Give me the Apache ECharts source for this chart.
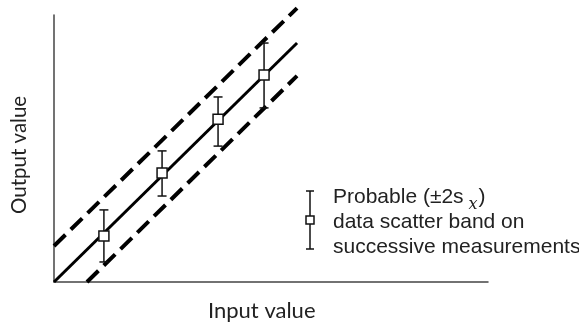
<!DOCTYPE html>
<html>
<head>
<meta charset="utf-8">
<script src="https://cdn.jsdelivr.net/npm/echarts@6/dist/echarts.min.js"></script>
<style>
html,body{margin:0;padding:0;background:#fff;}
#chart{width:579px;height:327px;}
</style>
</head>
<body>
<div id="chart"></div>
<script>
// Measurement points (arbitrary units)
const inputX    = [1.15, 2.49, 3.78, 4.84];
const outputY   = [1.72, 4.08, 6.10, 7.75];
const upperErr  = [2.70, 4.91, 6.93, 8.95];
const lowerErr  = [0.75, 3.22, 5.09, 6.52];
// Fitted line and scatter band limits
const fitLineX   = [0, 5.6];
const fitLineY   = [0, 8.95];
const upperBandX = [0, 5.6];
const upperBandY = [1.35, 10.26];
const lowerBandX = [0.76, 5.6];
const lowerBandY = [0, 7.72];
const xAxisName = 'Input value';
const yAxisName = 'Output value';

const pts = inputX.map((x, i) => [x, outputY[i]]);
const errs = inputX.map((x, i) => [x, lowerErr[i], upperErr[i]]);
const zip = (a, b) => a.map((v, i) => [v, b[i]]);

const chart = echarts.init(document.getElementById('chart'), null, {renderer: 'canvas'});
const axisCommon = {
  type: 'value', min: 0, max: 10,
  axisLine: {show: true, onZero: false, lineStyle: {color: '#444', width: 1.5}},
  axisTick: {show: false}, axisLabel: {show: false}, splitLine: {show: false}
};
const option = {
  animation: false,
  backgroundColor: '#fff',
  grid: {left: 54, top: 15, right: 91, bottom: 45},
  xAxis: Object.assign({}, axisCommon),
  yAxis: Object.assign({}, axisCommon),
  series: [
    {type: 'line', data: zip(fitLineX, fitLineY), symbol: 'none', clip: false,
     lineStyle: {color: '#000', width: 3}, z: 2},
    {type: 'line', data: zip(upperBandX, upperBandY), symbol: 'none', clip: false,
     lineStyle: {color: '#000', width: 4, type: [16, 7.5]}, z: 2},
    {type: 'line', data: zip(lowerBandX, lowerBandY), symbol: 'none', clip: false,
     lineStyle: {color: '#000', width: 4, type: [16, 7.5]}, z: 2},
    {type: 'custom', data: errs, z: 3,
     renderItem: function (params, api) {
       const top = api.coord([api.value(0), api.value(2)]);
       const bot = api.coord([api.value(0), api.value(1)]);
       const hw = 4.5;
       const st = {stroke: '#111', lineWidth: 1.5};
       return {type: 'group', children: [
         {type: 'line', shape: {x1: top[0], y1: top[1], x2: bot[0], y2: bot[1]}, style: st},
         {type: 'line', shape: {x1: top[0]-hw, y1: top[1], x2: top[0]+hw, y2: top[1]}, style: st},
         {type: 'line', shape: {x1: bot[0]-hw, y1: bot[1], x2: bot[0]+hw, y2: bot[1]}, style: st}
       ]};
     }},
    {type: 'scatter', data: pts, symbol: 'rect', symbolSize: 10, z: 4,
     itemStyle: {color: '#fff', borderColor: '#111', borderWidth: 1.5, opacity: 1}}
  ],
  graphic: [
    {type: 'text', left: 208, top: 300, style: {text: xAxisName, font: '22px Lato', fill: '#222'}},
    {type: 'text', x: 9, y: 214, rotation: Math.PI / 2, style: {text: yAxisName, font: '20.5px Lato', fill: '#222'}},
    // legend icon
    {type: 'line', shape: {x1: 310, y1: 191, x2: 310, y2: 249}, style: {stroke: '#111', lineWidth: 1.5}},
    {type: 'line', shape: {x1: 306, y1: 191, x2: 314, y2: 191}, style: {stroke: '#111', lineWidth: 1.5}},
    {type: 'line', shape: {x1: 306, y1: 249, x2: 314, y2: 249}, style: {stroke: '#111', lineWidth: 1.5}},
    {type: 'rect', shape: {x: 306, y: 216, width: 8, height: 8}, style: {fill: '#fff', stroke: '#111', lineWidth: 1.5}, z: 10},
    {type: 'text', x: 333, y: 185, style: {
      text: '{a|Probable (±2s}{x|x}{a|)}\n{a|data scatter band on}\n{a|successive measurements}',
      rich: {
        a: {font: '21px "Liberation Sans"', fill: '#222', lineHeight: 25},
        x: {fontSize: 16, fontStyle: 'italic', fontFamily: '"DejaVu Serif"', fill: '#222', lineHeight: 25, padding: [14, 1, 0, 5]}
      }
    }}
  ]
};
chart.setOption(option);
</script>
</body>
</html>
